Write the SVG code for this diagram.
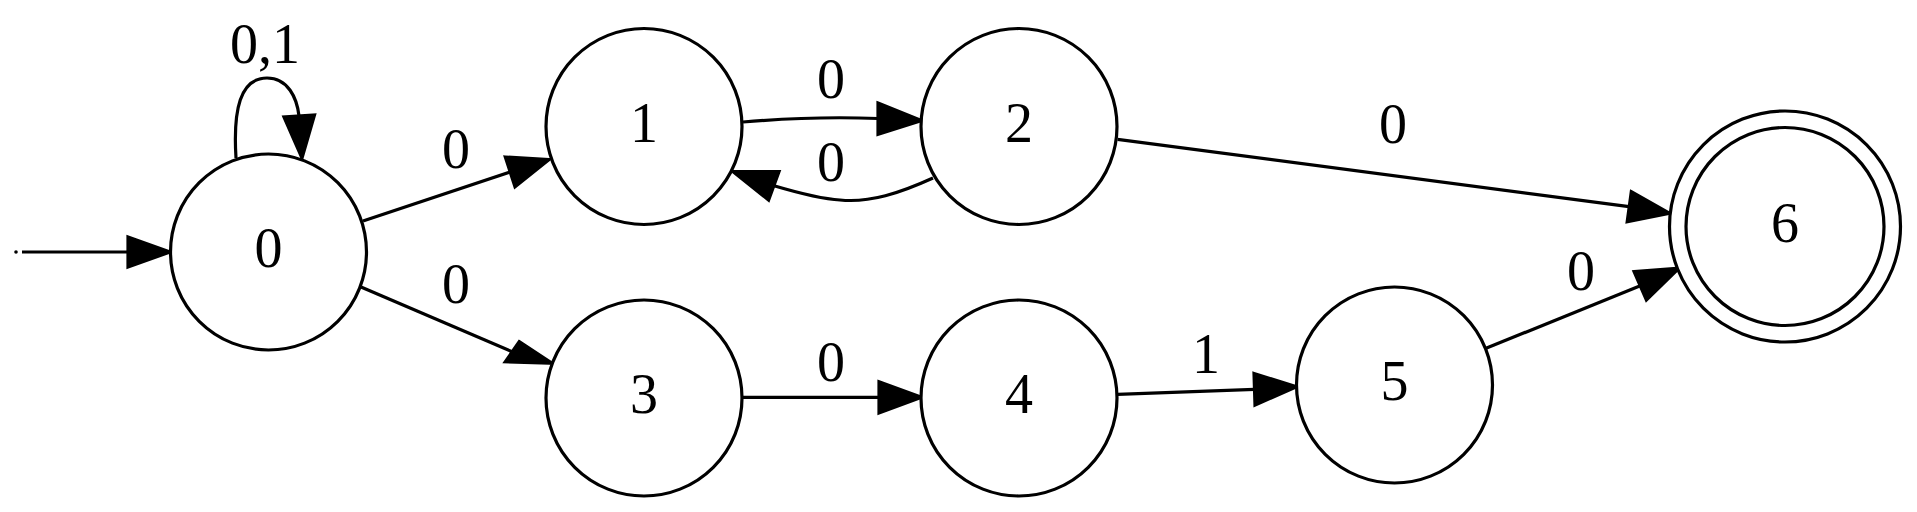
<svg xmlns="http://www.w3.org/2000/svg" width="1917" height="512" viewBox="0 0 1917 512">
<style>
.n{fill:#fff;stroke:#000;stroke-width:3.2}
.e{fill:none;stroke:#000;stroke-width:3.2}
.h{fill:#000;stroke:#000;stroke-width:3.2;stroke-linejoin:miter}
text{font-family:"Liberation Serif","Times New Roman",serif;font-size:56px;fill:#000;text-anchor:middle}
</style>
<rect width="1917" height="512" fill="#fff"/>
<g id="connectors">
<circle cx="16" cy="252" r="1.8" fill="#000"/>
<path class="e" d="M22,252 L128,252"/>
<polygon class="h" points="128,237 170,252 128,267"/>
<path class="e" d="M236,158 C233,110 240,78 267,78 C288,78 297,98 299,116"/>
<polygon class="h" points="284,117 302,158 314.5,115"/>
<text x="265" y="63">0,1</text>
<path class="e" d="M363,221 L510,172"/>
<polygon class="h" points="505.3,157 549,159.5 515,186.7"/>
<text x="456" y="168">0</text>
<path class="e" d="M361,287 L512,351.7"/>
<polygon class="h" points="519.2,341.7 552,363.3 505.3,361.7"/>
<text x="456" y="303">0</text>
<path class="e" d="M743,122 C790,118 840,117 878,118.5"/>
<polygon class="h" points="878,103 921.5,120.5 878,134.3"/>
<text x="831" y="98">0</text>
<path class="e" d="M933,178 C900,193 870,203 840,200 C820,199 795,192 774,185.8"/>
<polygon class="h" points="779,171.7 733,171.7 768.6,200"/>
<text x="831" y="181">0</text>
<path class="e" d="M1117.6,139.3 L1629,206.7"/>
<polygon class="h" points="1631.3,191.7 1669.5,213.3 1627.2,221.7"/>
<text x="1393" y="143">0</text>
<path class="e" d="M743,397.3 L879,397.3"/>
<polygon class="h" points="879,381.7 921.5,397.3 879,413"/>
<text x="831" y="381">0</text>
<path class="e" d="M1117.6,394.3 L1254.5,389.3"/>
<polygon class="h" points="1254,373.5 1296.5,386.8 1255,405"/>
<text x="1206" y="373">1</text>
<path class="e" d="M1486,348.3 L1640.3,285.8"/>
<polygon class="h" points="1634.1,271.7 1679,268.3 1646.4,300"/>
<text x="1581" y="290">0</text>
</g>
<g id="node0"><circle class="n" cx="268.5" cy="252" r="98"/><text x="268.5" y="267">0</text></g>
<g id="node1"><circle class="n" cx="644" cy="126.5" r="98"/><text x="644" y="141.5">1</text></g>
<g id="node2"><circle class="n" cx="1019" cy="126.5" r="98"/><text x="1019" y="141.5">2</text></g>
<g id="node3"><circle class="n" cx="644" cy="398" r="98"/><text x="644" y="413">3</text></g>
<g id="node4"><circle class="n" cx="1019" cy="398" r="98"/><text x="1019" y="413">4</text></g>
<g id="node5"><circle class="n" cx="1394.5" cy="385" r="98"/><text x="1394.5" y="400">5</text></g>
<g id="node6"><circle class="n" cx="1785" cy="226.5" r="115.5"/><circle class="n" cx="1785" cy="226.5" r="99"/><text x="1785" y="241.5">6</text></g>
</svg>
